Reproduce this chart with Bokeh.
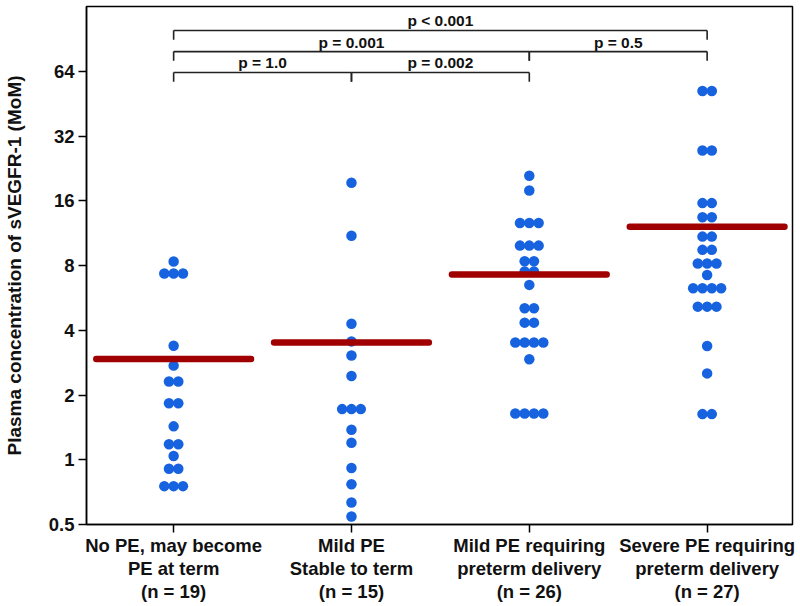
from bokeh.plotting import figure
from bokeh.models import FixedTicker, Range1d
from bokeh.core.properties import value
from bokeh.embed import file_html
from bokeh.resources import INLINE

# ---------------- data ----------------
categories = [
    "No PE, may become\nPE at term\n(n = 19)",
    "Mild PE\nStable to term\n(n = 15)",
    "Mild PE requiring\npreterm delivery\n(n = 26)",
    "Severe PE requiring\npreterm delivery\n(n = 27)",
]
g1_values = [8.35, 7.34, 7.34, 7.34, 3.39, 2.74, 2.31, 2.31, 1.83, 1.83,
             1.43, 1.18, 1.18, 1.04, 0.908, 0.908, 0.754, 0.754, 0.754]
g2_values = [19.4, 11.0, 4.29, 3.55, 3.05, 2.45, 1.72, 1.72, 1.72, 1.38,
             1.2, 0.915, 0.77, 0.633, 0.545]
g3_values = [20.9, 17.85, 12.6, 12.6, 12.6, 9.9, 9.9, 9.9, 8.37, 8.37,
             7.5, 7.5, 6.5, 5.06, 5.06, 4.34, 4.34, 3.51, 3.51, 3.51, 3.51,
             2.93, 1.64, 1.64, 1.64, 1.64]
g4_values = [51.8, 51.8, 27.4, 27.4, 15.6, 15.6, 13.4, 13.4, 10.9, 10.9,
             9.46, 9.46, 8.18, 8.18, 8.18, 7.23, 6.27, 6.27, 6.27, 6.27,
             5.15, 5.15, 5.15, 3.38, 2.52, 1.63, 1.63]
medians = [2.94, 3.51, 7.26, 12.1]

y_ticks = [0.5, 1, 2, 4, 8, 16, 32, 64]
y_tick_labels = ["0.5", "1", "2", "4", "8", "16", "32", "64"]

# comparisons: (group a, group b, label, bracket level)
comp_a = [0, 1, 0, 2, 0]
comp_b = [1, 2, 2, 3, 3]
comp_labels = ["p = 1.0", "p = 0.002", "p = 0.001", "p = 0.5", "p < 0.001"]
comp_level = [0, 0, 1, 1, 2]
bracket_heights = [63.2, 79.0, 99.0]   # y value of each bracket level (MoM)

groups = [g1_values, g2_values, g3_values, g4_values]

# ---------------- figure ----------------
FONT = "Liberation Sans"
p = figure(
    frame_width=706, frame_height=518,
    y_axis_type="log",
    x_range=Range1d(-0.49, 3.48),
    y_range=Range1d(0.5, 128),
    output_backend="svg", toolbar_location=None,
    min_border_left=86, min_border_right=6, min_border_top=6, min_border_bottom=0,
)
p.xgrid.visible = False
p.ygrid.visible = False
p.outline_line_color = "black"
p.outline_line_width = 1.5
p.outline_line_alpha = 1.0

# beeswarm dots
dx = 0.0525
xs, ys = [], []
for gi, vals in enumerate(groups):
    uniq = []
    for v in vals:
        if v not in uniq:
            uniq.append(v)
    for v in uniq:
        k = vals.count(v)
        for i in range(k):
            xs.append(gi + (i - (k - 1) / 2) * dx)
            ys.append(v)
p.scatter(x=xs, y=ys, size=10.5, fill_color="#1762df", line_color="#1762df",
          line_width=0)

# median bars
half = 0.435
p.segment(x0=[i - half for i in range(4)], y0=medians,
          x1=[i + half for i in range(4)], y1=medians,
          line_color="#a00000", line_width=6.5, line_cap="round")

# brackets
drop = 0.906
bx0, by0, bx1, by1 = [], [], [], []
tx, ty = [], []
for a, b, lev in zip(comp_a, comp_b, comp_level):
    h = bracket_heights[lev]
    bx0 += [a, a, b]
    by0 += [h, h * drop, h * drop]
    bx1 += [b, a, b]
    by1 += [h, h, h]
    tx.append((a + b) / 2)
    ty.append(h)
p.segment(x0=bx0, y0=by0, x1=bx1, y1=by1, line_color="#222222", line_width=1.6)
p.text(x=tx, y=ty, text=comp_labels, text_align="center", text_baseline="bottom",
       y_offset=-1, text_font=value(FONT),
       text_font_style="bold", text_font_size="15.5px", text_color="#111111")

# axes
p.xaxis.ticker = FixedTicker(ticks=[0, 1, 2, 3])
p.xaxis.major_label_overrides = {i: c for i, c in enumerate(categories)}
p.xaxis.minor_tick_line_color = None
p.xaxis.major_tick_in = 0
p.xaxis.major_tick_out = 8
p.xaxis.major_label_standoff = 2
p.xaxis.major_label_text_font = FONT
p.xaxis.major_label_text_font_style = "bold"
p.xaxis.major_label_text_font_size = "18.5px"
p.xaxis.major_label_text_line_height = 1.1
p.xaxis.major_label_text_color = "#111111"
p.xaxis.axis_line_width = 1.5
p.xaxis.major_tick_line_width = 1.5

p.yaxis.ticker = FixedTicker(ticks=y_ticks)
p.yaxis.major_label_overrides = dict(zip(y_ticks, y_tick_labels))
p.yaxis.minor_tick_line_color = None
p.yaxis.major_tick_in = 0
p.yaxis.major_tick_out = 8
p.yaxis.major_label_standoff = 4
p.yaxis.major_label_text_font = FONT
p.yaxis.major_label_text_font_style = "bold"
p.yaxis.major_label_text_font_size = "18.5px"
p.yaxis.major_label_text_color = "#111111"
p.yaxis.axis_line_width = 1.5
p.yaxis.major_tick_line_width = 1.5
p.yaxis.axis_label = "Plasma concentration of sVEGFR-1 (MoM)"
p.yaxis.axis_label_text_font = FONT
p.yaxis.axis_label_text_font_style = "bold"
p.yaxis.axis_label_text_font_size = "19px"
p.yaxis.axis_label_text_color = "#111111"
p.yaxis.axis_label_standoff = 21

open("out.html", "w").write(file_html(p, INLINE))
